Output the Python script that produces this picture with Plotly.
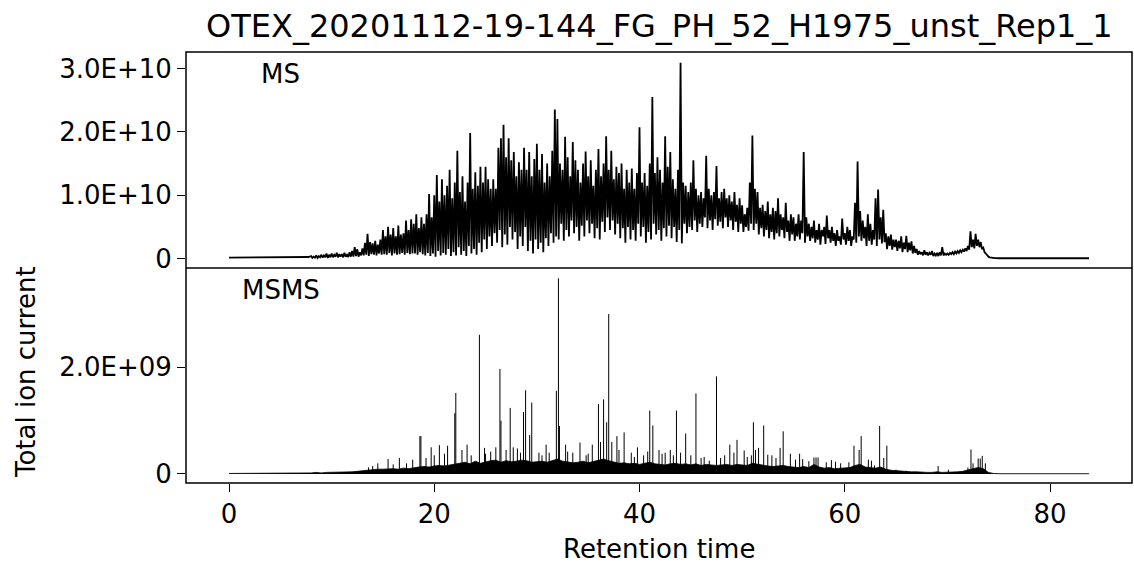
import plotly.graph_objects as go
from plotly.subplots import make_subplots

TITLE = "OTEX_20201112-19-144_FG_PH_52_H1975_unst_Rep1_1"

# MS total ion current, in units of 1E9, read every 0.25 min starting at 8.0 min
ms_start = 8.0
ms_step = 0.25
ms_high = [
    0.4, 0.3, 0.5, 0.4,      # 8
    0.6, 0.5, 0.8, 0.6,      # 9
    0.8, 0.6, 0.9, 0.7,      # 10
    0.7, 0.9, 0.6, 1.0,      # 11
    1.2, 1.8, 1.5, 1.0,      # 12
    1.6, 2.5, 3.9, 2.6,      # 13
    2.4, 2.8, 2.2, 3.0,      # 14
    4.5, 3.5, 5.0, 3.8,      # 15
    4.8, 3.5, 5.2, 3.8,      # 16
    4.0, 6.0, 4.5, 6.2,      # 17
    5.5, 7.0, 4.8, 6.5,      # 18
    5.5, 7.0, 10.2, 6.5,     # 19
    10.0, 13.2, 9.0, 12.5,   # 20
    10.0, 11.5, 14.0, 9.5,   # 21
    12.0, 17.0, 10.5, 13.0,  # 22
    9.0, 12.0, 19.8, 11.0,   # 23
    13.6, 11.5, 14.5, 12.0,  # 24
    14.5, 12.5, 11.0, 12.5,  # 25
    11.0, 17.5, 19.0, 21.1,  # 26
    16.0, 19.0, 15.5, 16.8,  # 27
    13.0, 15.2, 14.0, 17.5,  # 28
    14.0, 16.8, 13.0, 15.7,  # 29
    18.1, 14.0, 16.5, 12.0,  # 30
    15.0, 13.0, 17.0, 23.5,  # 31
    22.0, 15.0, 14.0, 19.2,  # 32
    16.0, 13.0, 18.4, 15.5,  # 33
    14.0, 12.0, 15.0, 16.9,  # 34
    13.0, 15.5, 11.5, 14.0,  # 35
    17.3, 13.0, 15.0, 19.3,  # 36
    14.0, 17.0, 12.5, 14.5,  # 37
    13.5, 15.0, 11.0, 14.0,  # 38
    12.0, 14.2, 11.0, 13.5,  # 39
    20.7, 12.0, 13.5, 11.5,  # 40
    15.0, 25.5, 13.5, 16.0,  # 41
    14.0, 12.0, 19.3, 14.5,  # 42
    16.8, 12.5, 11.0, 14.0,  # 43
    30.9, 12.0, 11.5, 10.5,  # 44
    12.0, 15.5, 11.0, 10.0,  # 45
    10.5, 9.5, 16.2, 11.0,   # 46
    10.0, 10.5, 14.6, 9.5,   # 47
    10.5, 11.0, 9.5, 10.0,   # 48
    9.0, 10.5, 8.5, 9.5,     # 49
    8.4, 7.0, 8.0, 12.0,     # 50
    19.4, 11.0, 10.5, 8.0,   # 51
    8.5, 7.5, 9.0, 7.0,      # 52
    8.0, 7.5, 9.5, 7.0,      # 53
    6.5, 8.8, 6.0, 7.0,      # 54
    6.5, 5.5, 7.0, 6.0,      # 55
    16.8, 6.5, 5.5, 5.0,     # 56
    6.0, 4.5, 5.5, 4.5,      # 57
    5.0, 6.8, 4.5, 5.0,      # 58
    4.0, 4.5, 3.5, 6.3,      # 59
    4.0, 5.0, 4.5, 3.5,      # 60
    8.8, 15.3, 7.5, 6.0,     # 61
    5.0, 7.0, 5.5, 4.5,      # 62
    9.5, 10.9, 6.5, 7.7,     # 63
    4.0, 3.5, 3.8, 3.0,      # 64
    3.0, 2.8, 3.5, 2.5,      # 65
    3.6, 2.5, 2.7, 2.0,      # 66
    1.5, 1.2, 1.0, 1.3,      # 67
    1.0, 0.9, 1.2, 0.8,      # 68
    0.9, 1.0, 1.8, 0.8,      # 69
    0.8, 0.9, 1.0, 1.1,      # 70
    1.2, 1.3, 1.4, 1.6,      # 71
    2.0, 4.3, 3.0, 3.9,      # 72
    3.0, 2.6, 1.7, 0.8,      # 73
    0.3, 0.15, 0.1, 0.08,    # 74
]
ms_low = [
    0.1, 0.15, 0.1, 0.2,     # 8
    0.15, 0.2, 0.1, 0.2,     # 9
    0.2, 0.3, 0.2, 0.3,      # 10
    0.2, 0.3, 0.25, 0.3,     # 11
    0.3, 0.4, 0.3, 0.5,      # 12
    0.5, 0.6, 0.4, 0.7,      # 13
    0.6, 0.5, 0.8, 0.6,      # 14
    0.7, 0.6, 0.9, 0.5,      # 15
    0.8, 0.6, 0.7, 0.9,      # 16
    0.6, 0.9, 0.7, 0.8,      # 17
    0.8, 0.6, 1.0, 0.7,      # 18
    0.5, 0.9, 0.4, 0.8,      # 19
    0.3, 1.2, 0.5, 0.9,      # 20
    0.6, 1.5, 0.4, 1.0,      # 21
    0.5, 1.8, 0.6, 1.2,      # 22
    0.4, 2.0, 0.8, 1.5,      # 23
    0.6, 2.5, 1.0, 3.0,      # 24
    1.5, 3.5, 2.0, 4.0,      # 25
    2.5, 4.5, 1.8, 3.8,      # 26
    2.2, 5.0, 3.0, 4.2,      # 27
    1.5, 3.5, 2.0, 5.0,      # 28
    1.2, 2.8, 0.8, 3.0,      # 29
    1.5, 2.5, 1.0, 3.2,      # 30
    2.0, 4.0, 2.5, 3.5,      # 31
    3.0, 5.5, 2.8, 4.5,      # 32
    3.5, 6.0, 4.0, 5.0,      # 33
    2.8, 5.2, 3.5, 6.0,      # 34
    4.0, 5.5, 3.2, 4.8,      # 35
    3.0, 5.8, 4.2, 6.5,      # 36
    4.5, 6.0, 3.8, 5.5,      # 37
    3.2, 4.8, 2.5, 5.0,      # 38
    3.0, 4.5, 2.8, 5.5,      # 39
    3.5, 5.0, 2.5, 4.2,      # 40
    3.0, 5.5, 3.8, 4.5,      # 41
    2.8, 4.8, 3.5, 5.2,      # 42
    3.2, 5.0, 2.6, 4.5,      # 43
    2.4, 5.5, 4.0, 5.0,      # 44
    4.5, 6.0, 4.2, 5.5,      # 45
    5.0, 6.5, 4.8, 6.0,      # 46
    4.5, 6.2, 5.2, 5.8,      # 47
    4.8, 6.5, 5.0, 6.0,      # 48
    4.5, 5.8, 4.2, 5.5,      # 49
    4.2, 5.0, 4.4, 5.5,      # 50
    4.5, 5.5, 3.8, 4.8,      # 51
    3.5, 4.5, 3.2, 4.2,      # 52
    3.0, 4.0, 3.5, 4.5,      # 53
    3.2, 4.2, 2.8, 3.8,      # 54
    2.8, 3.5, 3.0, 4.0,      # 55
    2.5, 3.5, 2.8, 3.2,      # 56
    2.5, 3.0, 2.2, 3.5,      # 57
    2.3, 3.2, 2.5, 2.8,      # 58
    2.0, 2.8, 2.2, 3.0,      # 59
    2.2, 2.8, 2.0, 3.0,      # 60
    2.5, 3.5, 2.8, 3.2,      # 61
    2.0, 2.8, 2.2, 3.0,      # 62
    2.0, 3.0, 2.4, 2.6,      # 63
    1.5, 2.0, 1.4, 1.8,      # 64
    1.2, 1.6, 1.0, 1.5,      # 65
    1.0, 1.3, 0.8, 0.9,      # 66
    0.6, 0.7, 0.5, 0.6,      # 67
    0.5, 0.6, 0.4, 0.5,      # 68
    0.4, 0.5, 0.5, 0.6,      # 69
    0.6, 0.7, 0.7, 0.8,      # 70
    0.9, 1.0, 1.1, 1.2,      # 71
    1.4, 1.8, 1.6, 2.0,      # 72
    1.8, 1.5, 1.0, 0.5,      # 73
    0.2, 0.1, 0.08, 0.05,    # 74
]
ms_head_time = [0.0, 4.0, 7.75]
ms_head = [0.15, 0.2, 0.25]
ms_tail_time = [75.0, 83.8]
ms_tail = [0.05, 0.05]

# MSMS total ion current, in units of 1E8
# dense low background, read every 0.5 min starting at 8.0 min
msms_band_start = 8.0
msms_band_step = 0.5
msms_band = [
    0.2, 0.3, 0.2, 0.3, 0.3, 0.3, 0.3, 0.4, 0.4, 0.5,   # 8-12.5
    0.6, 0.8, 0.8, 0.9, 0.9, 1.0, 1.0, 0.9, 1.1, 1.0,   # 13-17.5
    1.2, 1.3, 1.4, 1.3, 1.5, 1.6, 1.5, 1.7, 1.8, 2.0,   # 18-22.5
    2.2, 1.9, 2.4, 2.0, 2.3, 2.5, 2.6, 2.2, 2.5, 2.3,   # 23-27.5
    2.4, 2.6, 2.5, 2.2, 2.3, 2.4, 2.2, 2.5, 2.8, 2.4,   # 28-32.5
    2.3, 2.1, 2.2, 2.4, 2.1, 2.3, 2.6, 2.8, 2.5, 2.2,   # 33-37.5
    2.0, 2.1, 1.9, 2.0, 1.8, 2.0, 2.2, 1.9, 1.8, 1.7,   # 38-42.5
    1.9, 2.0, 1.8, 1.9, 1.7, 1.9, 1.6, 1.8, 1.7, 1.6,   # 43-47.5
    1.7, 1.8, 1.6, 1.8, 1.7, 1.6, 2.0, 1.8, 1.6, 1.5,   # 48-52.5
    1.4, 1.5, 1.6, 1.4, 1.3, 1.2, 1.4, 1.2, 1.8, 1.3,   # 53-57.5
    1.1, 1.2, 1.0, 1.1, 1.1, 1.2, 1.6, 1.8, 1.3, 1.2,   # 58-62.5
    1.1, 1.3, 0.9, 0.7, 0.6, 0.5, 0.5, 0.4, 0.4, 0.3,   # 63-67.5
    0.3, 0.3, 0.4, 0.3, 0.3, 0.4, 0.4, 0.5, 0.8, 1.0,   # 68-72.5
    1.2, 1.0, 0.3, 0.1,                                 # 73-74.5
]
msms_head_time = [0.0, 7.5]
msms_head = [0.1, 0.15]
msms_tail_time = [75.0, 83.8]
msms_tail = [0.05, 0.05]

# individual MSMS spikes (retention time, height in 1E8)
msms_spike_time = [
    13.6, 14.0, 14.5, 15.5, 16.0, 16.6, 17.3, 17.9, 18.6, 18.7, 19.2, 19.7,
    20.0, 20.5, 21.0, 21.3, 22.0, 22.1, 22.7, 23.2, 23.6, 24.4, 24.9, 25.0,
    25.5, 26.0, 26.4, 26.5, 27.0, 27.4, 27.7, 28.1, 28.4, 28.7, 28.9, 29.3,
    29.5, 30.2, 30.5, 30.9, 31.2, 31.9, 32.1, 32.2, 32.8, 33.0, 33.5, 34.2,
    34.8, 35.0, 35.4, 36.0, 36.2, 36.5, 36.8, 37.0, 37.3, 37.8, 38.0, 38.5,
    39.2, 39.5, 39.8, 40.4, 40.8, 41.0, 41.3, 41.9, 42.2, 42.5, 43.0, 43.3,
    43.6, 44.0, 44.5, 45.0, 45.5, 46.0, 46.3, 46.8, 47.5, 47.9, 48.3, 48.8,
    49.2, 49.5, 50.2, 50.5, 50.9, 51.1, 51.3, 51.6, 52.1, 52.5, 52.9, 53.3,
    53.7, 54.0, 54.7, 55.2, 55.6, 55.9, 56.5, 57.0, 57.2, 57.4, 58.2, 58.7,
    59.1, 59.6, 60.4, 60.9, 61.4, 61.6, 62.3, 62.6, 62.9, 63.4, 63.8, 64.1,
    65.0, 66.0, 67.5, 69.1, 70.1, 72.0, 72.3, 72.5, 73.0, 73.2, 73.4, 73.7,
]
msms_spike = [
    1.25, 1.5, 2.0, 2.8, 1.8, 3.0, 2.0, 2.7, 7.1, 7.1, 3.0, 5.0,
    3.5, 5.4, 3.8, 5.3, 11.4, 15.2, 4.5, 5.5, 3.5, 26.1, 4.9, 3.8,
    4.2, 5.0, 19.7, 10.0, 4.5, 12.4, 5.0, 4.8, 4.0, 11.6, 15.7, 7.3,
    13.4, 4.0, 3.5, 5.5, 4.0, 15.6, 36.7, 9.0, 5.5, 4.2, 4.0, 5.9,
    3.5, 3.8, 5.5, 13.1, 6.0, 14.0, 9.7, 30.0, 6.0, 7.1, 4.5, 7.8,
    4.0, 3.2, 5.0, 3.5, 4.2, 11.9, 9.1, 4.5, 3.8, 4.0, 4.5, 3.5,
    11.9, 4.0, 7.6, 3.5, 15.1, 3.0, 3.2, 2.5, 18.3, 3.0, 3.5, 5.5,
    4.0, 6.4, 4.4, 3.2, 3.5, 9.7, 4.5, 4.9, 9.1, 3.6, 3.5, 3.0,
    4.9, 8.0, 3.8, 2.7, 3.8, 2.8, 2.4, 3.1, 3.1, 3.1, 2.2, 2.6,
    2.3, 2.0, 2.2, 5.3, 4.5, 7.1, 2.7, 2.5, 1.6, 9.0, 3.0, 5.3,
    0.8, 0.6, 0.4, 1.5, 0.8, 1.2, 4.6, 2.0, 2.9, 2.9, 3.4, 2.0,
]

FONT = "DejaVu Sans"
PANEL_SPLIT = 0.4988

# zigzag between the high and low readings so the trace looks dense like the raw scan
ms_x = list(ms_head_time)
ms_y = [v * 1e9 for v in ms_head]
for i, (hi, lo) in enumerate(zip(ms_high, ms_low)):
    t = ms_start + i * ms_step
    ms_x += [t, t + ms_step / 2]
    ms_y += [hi * 1e9, lo * 1e9]
ms_x += ms_tail_time
ms_y += [v * 1e9 for v in ms_tail]

band_x = list(msms_head_time) + [msms_band_start + i * msms_band_step for i in range(len(msms_band))] + msms_tail_time
band_y = [v * 1e8 for v in msms_head + msms_band + msms_tail]

spike_x, spike_y = [], []
for t, v in zip(msms_spike_time, msms_spike):
    spike_x += [t, t, None]
    spike_y += [0, v * 1e8, None]

fig = make_subplots(rows=2, cols=1, shared_xaxes=True, vertical_spacing=0)
fig.add_trace(go.Scatter(x=ms_x, y=ms_y, mode='lines', line=dict(color='black', width=1.8)), row=1, col=1)
fig.add_trace(go.Scatter(x=band_x, y=band_y, mode='lines', fill='tozeroy', fillcolor='black',
                         line=dict(color='black', width=0.8)), row=2, col=1)
fig.add_trace(go.Scatter(x=spike_x, y=spike_y, mode='lines', line=dict(color='black', width=1)), row=2, col=1)

# the frame is drawn with shapes below, so the axes only carry ticks
axis_style = dict(showline=False, showgrid=False, zeroline=False, automargin=False,
                  tickfont=dict(family=FONT, size=26, color='black'),
                  tickcolor='black', ticklen=8, tickwidth=1.3)
fig.update_xaxes(**axis_style, range=[-4.19, 87.99])
fig.update_xaxes(showticklabels=False, ticks='', row=1, col=1)
fig.update_xaxes(ticks='outside', tickvals=[0, 20, 40, 60, 80], row=2, col=1)
fig.update_yaxes(**axis_style, ticks='outside')
fig.update_yaxes(range=[-0.149e10, 3.259e10], tickvals=[0, 1e10, 2e10, 3e10],
                 ticktext=['0', '1.0E+10', '2.0E+10', '3.0E+10'], domain=[PANEL_SPLIT, 1], row=1, col=1)
fig.update_yaxes(range=[-0.169e9, 3.863e9], tickvals=[0, 2e9],
                 ticktext=['0', '2.0E+09'], domain=[0, PANEL_SPLIT], row=2, col=1)

# box round both panels plus the divider, in paper coordinates so nothing clips it
fig.add_shape(type='rect', xref='paper', yref='paper', x0=0, x1=1, y0=0, y1=1,
              line=dict(color='black', width=1.5), layer='above')
fig.add_shape(type='line', xref='paper', yref='paper', x0=0, x1=1, y0=PANEL_SPLIT, y1=PANEL_SPLIT,
              line=dict(color='black', width=1.5), layer='above')

fig.add_annotation(text=TITLE, xref='paper', yref='paper', x=0.5, y=1.0603, xanchor='center',
                   yanchor='middle', showarrow=False, font=dict(family=FONT, size=32, color='black'))
fig.add_annotation(text='MS', xref='x domain', yref='y domain', x=0.1, y=0.9, xanchor='center',
                   yanchor='middle', showarrow=False, font=dict(family=FONT, size=26, color='black'))
fig.add_annotation(text='MSMS', xref='x2 domain', yref='y2 domain', x=0.1, y=0.9, xanchor='center',
                   yanchor='middle', showarrow=False, font=dict(family=FONT, size=26, color='black'))
fig.add_annotation(text='Total ion current', xref='paper', yref='paper', x=-0.1691, y=0.2575,
                   xanchor='center', yanchor='middle', textangle=-90, showarrow=False,
                   font=dict(family=FONT, size=26, color='black'))
fig.add_annotation(text='Retention time', xref='paper', yref='paper', x=0.5, y=-0.1531,
                   xanchor='center', yanchor='middle', showarrow=False,
                   font=dict(family=FONT, size=26, color='black'))

fig.update_layout(
    width=1134, height=564,
    margin=dict(l=186, r=2, t=52, b=81),
    plot_bgcolor='white', paper_bgcolor='white',
    showlegend=False,
)
# the page's default body margin would push the fixed-size figure 8px off
fig.write_html("out.html", config={'displayModeBar': False},
               post_script="document.body.style.margin = '0';")
